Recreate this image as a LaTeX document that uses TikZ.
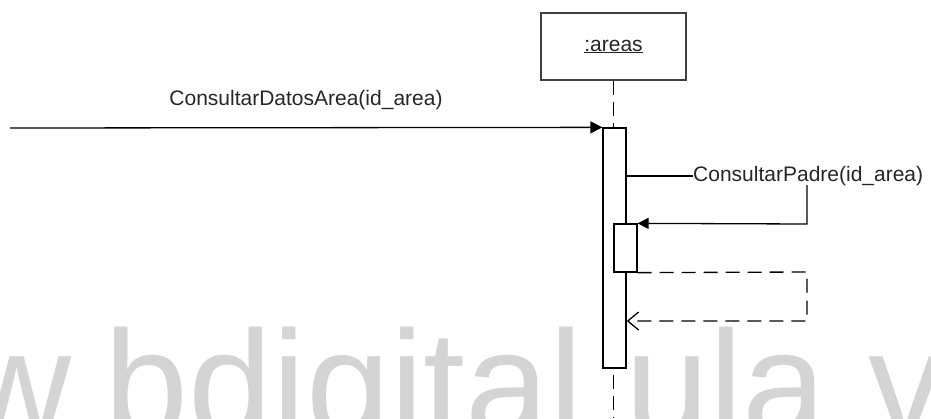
\documentclass[tikz,border=0pt]{standalone}
\usepackage{fontspec}
\setmainfont{Liberation Sans}
\usetikzlibrary{arrows.meta}
\definecolor{wmgray}{HTML}{D4D4D4}
\begin{document}
\begin{tikzpicture}[x=1pt,y=-1pt,
  lbl/.style={font=\fontsize{21}{25}\selectfont, inner sep=0pt, text=black!85},
  objbox/.style={draw=black!75, line width=1.6pt, fill=white, inner sep=0pt, minimum width=145pt, minimum height=67pt, font=\fontsize{21}{25}\selectfont, text=black!85},
  actbar/.style={draw=black, fill=white, line width=1.3pt, inner sep=0pt, minimum width=23pt},
  msg/.style={line width=1.3pt, draw=black},
  ret/.style={line width=1.3pt, draw=black, dash pattern=on 14pt off 8pt},
  lifeline/.style={line width=1.3pt, draw=black, dash pattern=on 14pt off 7pt}]
\useasboundingbox (0,0) rectangle (931,418);
\clip (0,0) rectangle (931,418);
% watermark
\node[anchor=base west, inner sep=0pt, text=wmgray, font=\fontsize{151}{155}\selectfont] (wm) at (-256,436) {www.bdigital.ula.ve};
% object
\node[objbox] (areas) at (613.5,46.5) {\underline{:areas}};
\coordinate (lend) at (613.5,418);
\draw[lifeline] (areas.south) -- (lend);
% activation bars
\node[actbar, minimum height=240pt] (bar) at (614.5,248) {};
\node[actbar, minimum height=48pt] (bar2) at (625.5,248) {};
% incoming message
\coordinate (src) at (10,128);
\node[lbl] (l1) at (306,100) {ConsultarDatosArea(id\_area)};
\draw[msg, -{Triangle[length=12pt,width=12pt]}] (src) -- (bar.north west);
% self call
\node[lbl, anchor=base west] (l2) at (693,181) {ConsultarPadre(id\_area)};
\coordinate (c1) at (807,224);
\coordinate (c0) at (807,185);
\draw[msg] (bar.east |- 0,176) -- (693,176);
\draw[msg, -{Triangle[length=11pt,width=11pt]}] (c0) -- (c1) -- (bar2.north east);
% return
\coordinate (c2) at (807,272);
\coordinate (c3) at (807,321);
\draw[ret, -{Straight Barb[length=11pt,width=18pt,line width=1.3pt]}] (bar2.south east) -- (c2) -- (c3) -- (bar.east |- c3);
\end{tikzpicture}
\end{document}
